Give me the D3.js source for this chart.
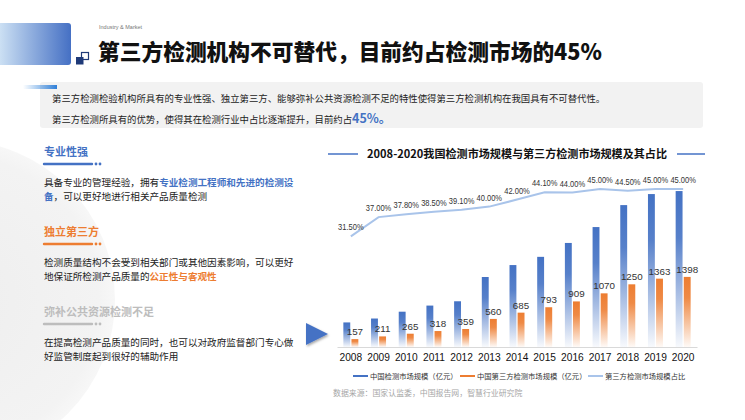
<!DOCTYPE html>
<html><head><meta charset="utf-8">
<script src="https://cdn.jsdelivr.net/npm/d3@7/dist/d3.min.js"></script>
<style>
html,body{margin:0;padding:0;background:#fff;}
svg{display:block;font-family:"Noto Sans CJK SC","Noto Sans",sans-serif;}
</style></head>
<body>
<svg id="c" width="745" height="420"></svg>
<script>
const years = ['2008','2009','2010','2011','2012','2013','2014','2015','2016','2017','2018','2019','2020'];
const marketSize = [490, 568, 704, 826, 912, 1396, 1634, 1798, 2075, 2392, 2830, 3050, 3110];
const thirdParty = [157, 211, 265, 318, 359, 560, 685, 793, 909, 1070, 1250, 1363, 1398];
const sharePct = [31.5, 37.0, 37.8, 38.5, 39.1, 40.0, 42.0, 44.1, 44.0, 45.0, 44.5, 45.0, 45.0];
const seriesNames = ['中国检测市场规模（亿元）','中国第三方检测市场规模（亿元）','第三方检测市场规模占比'];
const colors = ['#4472C4','#ED7D31','#A9C4EA'];

const svg = d3.select('#c');
const defs = svg.append('defs');

const hg = defs.append('linearGradient').attr('id','hdr').attr('x1','0').attr('x2','1').attr('y1','0').attr('y2','0');
hg.append('stop').attr('offset','0').attr('stop-color','#d3e6f6');
hg.append('stop').attr('offset','1').attr('stop-color','#4570c4');
const ag = defs.append('linearGradient').attr('id','acc').attr('x1','0').attr('x2','1');
ag.append('stop').attr('offset','0').attr('stop-color','#3d8de0').attr('stop-opacity',0);
ag.append('stop').attr('offset','1').attr('stop-color','#2f7fd8');
function barGrad(id,c){
  const g = defs.append('linearGradient').attr('id',id).attr('x1','0').attr('x2','0').attr('y1','0').attr('y2','1');
  g.append('stop').attr('offset','0').attr('stop-color',c).attr('stop-opacity',1);
  g.append('stop').attr('offset','0.3').attr('stop-color',c).attr('stop-opacity',0.9);
  g.append('stop').attr('offset','1').attr('stop-color',c).attr('stop-opacity',0.04);
}
barGrad('gb',colors[0]); barGrad('go',colors[1]);
const rg = defs.append('radialGradient').attr('id','bgc').attr('cx','0.5').attr('cy','0.5').attr('r','0.5');
rg.append('stop').attr('offset','0').attr('stop-color','#eeeeee');
rg.append('stop').attr('offset','0.9').attr('stop-color','#f3f3f3');
rg.append('stop').attr('offset','1').attr('stop-color','#f7f7f7');
const sh = defs.append('filter').attr('id','shd').attr('x','-50%').attr('y','-50%').attr('width','200%').attr('height','200%');
sh.append('feDropShadow').attr('dx',1).attr('dy',1.5).attr('stdDeviation',1.2).attr('flood-color','#000').attr('flood-opacity',0.35);

svg.append('circle').attr('cx',-45).attr('cy',300).attr('r',160).attr('fill','url(#bgc)');

// header
svg.append('rect').attr('x',-4).attr('y',23).attr('width',75).attr('height',42).attr('rx',3).attr('fill','url(#hdr)');
svg.append('rect').attr('x',81.5).attr('y',52.5).attr('width',7).attr('height',7).attr('fill','#fff').attr('stroke','#1f3a78').attr('stroke-width',1.2);
svg.append('rect').attr('x',76).attr('y',57).attr('width',7.5).attr('height',7.5).attr('fill','#1f3a78');
svg.append('text').attr('x',99).attr('y',29).attr('font-size',5.5).attr('fill','#777').attr('font-family','Liberation Sans, Arial').text('Industry & Market');
svg.append('text').attr('x',98).attr('y',60).attr('font-size',22).attr('font-weight',900).attr('fill','#111')
  .attr('textLength',504).attr('lengthAdjust','spacingAndGlyphs').text('第三方检测机构不可替代，目前约占检测市场的45%');

// text block
svg.append('rect').attr('x',40).attr('y',82).attr('width',663).attr('height',46).attr('rx',3).attr('fill','#f2f2f2');
svg.append('rect').attr('x',23).attr('y',85).attr('width',34).attr('height',4).attr('fill','url(#acc)');
svg.append('text').attr('x',52).attr('y',101.5).attr('font-size',9.4).attr('fill','#222')
  .text('第三方检测检验机构所具有的专业性强、独立第三方、能够弥补公共资源检测不足的特性使得第三方检测机构在我国具有不可替代性。');
const t2 = svg.append('text').attr('x',52).attr('y',122.5).attr('font-size',9.4).attr('fill','#222');
t2.append('tspan').text('第三方检测所具有的优势，使得其在检测行业中占比逐渐提升，目前约占');
t2.append('tspan').attr('font-size',12.5).attr('font-weight',700).attr('fill','#4472C4').text('45%。');

// left panel
const sections = [
  {title:'专业性强', color:'#4472C4', y:152, lines:[[['具备专业的管理经验，拥有',0],['专业检测工程师和先进的检测设',1]],[['备',1],['，可以更好地进行相关产品质量检测',0]]]},
  {title:'独立第三方', color:'#ED7D31', y:232, lines:[[['检测质量结构不会受到相关部门或其他因素影响，可以更好',0]],[['地保证所检测产品质量的',0],['公正性与客观性',1]]]},
  {title:'弥补公共资源检测不足', color:'#BDBDBD', y:312, lines:[[['在提高检测产品质量的同时，也可以对政府监督部门专心做',0]],[['好监管制度起到很好的辅助作用',0]]]}
];
sections.forEach(s=>{
  svg.append('text').attr('x',44).attr('y',s.y+4).attr('font-size',11).attr('font-weight',700).attr('fill',s.color).text(s.title);
  svg.append('line').attr('x1',44).attr('x2',92).attr('y1',s.y+12).attr('y2',s.y+12).attr('stroke',s.color).attr('stroke-width',2.4).attr('stroke-linecap','round');
  [96,100].forEach(cx=>svg.append('circle').attr('cx',cx).attr('cy',s.y+12).attr('r',1.4).attr('fill',s.color));
  s.lines.forEach((ln,i)=>{
    const t = svg.append('text').attr('x',44).attr('y',s.y+34+i*14).attr('font-size',9.6).attr('fill','#222');
    ln.forEach(([str,hl])=>{
      const sp = t.append('tspan').text(str);
      if(hl){ sp.attr('fill',s.color).attr('font-weight',700); }
    });
  });
});

svg.append('path').attr('d','M306,323 L328,334 L306,345 Z').attr('fill','#4472C4').attr('filter','url(#shd)');

// chart title
svg.append('line').attr('x1',328).attr('x2',358).attr('y1',154).attr('y2',154).attr('stroke','#4472C4').attr('stroke-width',1.5);
svg.append('line').attr('x1',677).attr('x2',705).attr('y1',154).attr('y2',154).attr('stroke','#4472C4').attr('stroke-width',1.5);
svg.append('text').attr('x',517).attr('y',158).attr('text-anchor','middle').attr('font-size',11).attr('font-weight',700).attr('fill','#111')
  .attr('textLength',300).attr('lengthAdjust','spacingAndGlyphs')
  .text('2008-2020我国检测市场规模与第三方检测市场规模及其占比');

// scales
const x = d3.scaleBand().domain(years).range([337,697]).padding(0);
const bw = x.bandwidth();
const x1 = d3.scaleBand().domain(['m','t']).range([bw/2-7.5, bw/2+7.5]).paddingInner(0.15);
const y = d3.scaleLinear().domain([0,3500]).range([347,171.5]);
const y2 = d3.scaleLinear().domain([0,50]).range([347,171.5]);

const g = svg.append('g');
g.selectAll('.bm').data(marketSize).join('rect')
  .attr('x',(d,i)=>x(years[i])+x1('m')).attr('width',x1.bandwidth())
  .attr('y',d=>y(d)).attr('height',d=>y(0)-y(d)).attr('fill','url(#gb)');
g.selectAll('.bt').data(thirdParty).join('rect')
  .attr('x',(d,i)=>x(years[i])+x1('t')).attr('width',x1.bandwidth())
  .attr('y',d=>y(d)).attr('height',d=>y(0)-y(d)).attr('fill','url(#go)');
const ax = g.append('g').attr('transform','translate(0,347)').call(d3.axisBottom(x).tickSize(0).tickPadding(7));
ax.select('.domain').attr('stroke','#d9d9d9').attr('stroke-width',1);
ax.selectAll('text').attr('font-size',10.2).attr('fill','#111').attr('font-family','Liberation Sans, Arial, sans-serif');

g.selectAll('.lt').data(thirdParty).join('text')
  .attr('x',(d,i)=>x(years[i])+x1('t')+x1.bandwidth()/2).attr('y',d=>y(d)-4)
  .attr('text-anchor','middle').attr('font-size',9.8).attr('fill','#333').attr('font-family','Liberation Sans, Arial, sans-serif')
  .text(d=>d);

const line = d3.line().x((d,i)=>x(years[i])+bw/2).y(d=>y2(d));
g.append('path').datum(sharePct).attr('d',line).attr('fill','none').attr('stroke',colors[2]).attr('stroke-width',2);
g.selectAll('.ls').data(sharePct).join('text')
  .attr('x',(d,i)=>x(years[i])+bw/2).attr('y',d=>y2(d)-6)
  .attr('text-anchor','middle').attr('font-size',8.8).attr('fill','#333').attr('font-family','Liberation Sans, Arial, sans-serif')
  .attr('textLength',25.5).attr('lengthAdjust','spacingAndGlyphs')
  .text(d=>d.toFixed(2)+'%');

const lgX = [353, 460, 588];
seriesNames.forEach((n,i)=>{
  svg.append('line').attr('x1',lgX[i]).attr('x2',lgX[i]+15).attr('y1',376).attr('y2',376).attr('stroke',colors[i]).attr('stroke-width',2);
  svg.append('text').attr('x',lgX[i]+17).attr('y',378.8).attr('font-size',7.3).attr('fill','#333').text(n);
});
svg.append('text').attr('x',333).attr('y',396).attr('font-size',7.9).attr('fill','#a6a6a6').text('数据来源：国家认监委，中国报告网，智慧行业研究院');
</script>
</body></html>
